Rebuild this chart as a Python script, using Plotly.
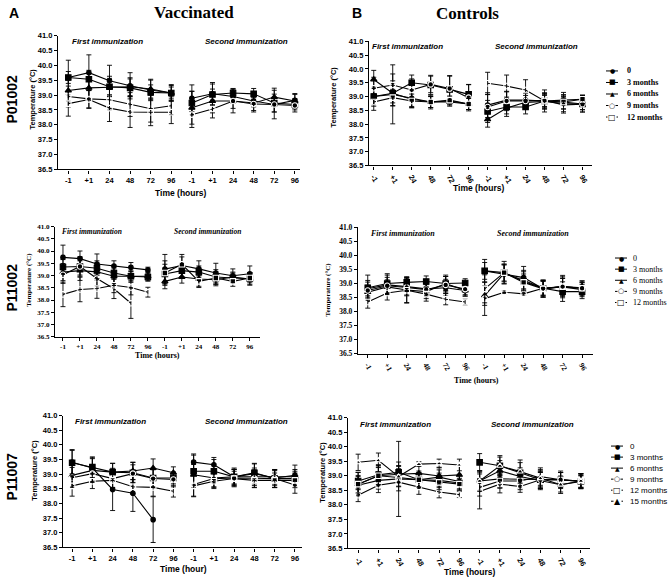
import plotly.graph_objects as go

W, H = 669, 583
TIME_LABELS = ["-1", "+1", "24", "48", "72", "96"]
SERIES = ["0", "3 months", "6 months", "9 months", "12 months", "15 months"]
SYMBOL = {"0": "circle", "3 months": "square", "6 months": "triangle-up",
          "9 months": "circle-open", "12 months": "square-open", "15 months": "triangle-up-open"}

# ---- data: 12 values each (first immunization x6, second immunization x6) ----
vacc_P01002_mean = {
    "0":         [39.59, 39.75, 39.48, 39.31, 39.17, 39.07, 38.89, 39.04, 38.95, 38.80, 38.68, 38.82],
    "3 months":  [39.59, 39.53, 39.28, 39.24, 39.09, 39.07, 38.73, 39.02, 39.07, 39.04, 38.73, 38.68],
    "6 months":  [39.15, 39.24, 39.26, 39.28, 39.20, 39.07, 38.57, 38.80, 38.80, 38.73, 38.93, 38.80],
    "9 months":  [38.95, 38.87, 38.84, 38.68, 38.54, 38.64, 38.34, 38.53, 38.80, 38.70, 38.68, 38.65],
    "12 months": [38.71, 38.85, 38.56, 38.43, 38.42, 38.42, None, None, None, None, None, None],
}
vacc_P01002_sd = {
    "0":         [0.58, 0.60, 0.52, 0.44, 0.36, 0.28, 0.45, 0.38, 0.22, 0.20, 0.25, 0.20],
    "3 months":  [0.20, 0.30, 0.35, 0.30, 0.25, 0.20, 0.40, 0.35, 0.15, 0.18, 0.30, 0.18],
    "6 months":  [0.35, 0.35, 0.30, 0.30, 0.30, 0.25, 0.55, 0.40, 0.40, 0.30, 0.30, 0.25],
    "9 months":  [0.35, 0.30, 0.35, 0.40, 0.45, 0.30, 0.43, 0.30, 0.25, 0.22, 0.48, 0.22],
    "12 months": [0.42, 0.30, 0.45, 0.52, 0.45, 0.38, None, None, None, None, None, None],
}
ctrl_P01002_mean = {
    "0":         [39.00, 39.08, 38.94, 38.80, 38.84, 38.73, 38.69, 38.87, 38.87, 38.84, 38.87, 38.90],
    "3 months":  [39.00, 39.12, 39.50, 39.42, 39.26, 39.08, 38.46, 38.62, 38.62, 38.84, 38.80, 38.73],
    "6 months":  [39.62, 39.12, 38.90, 38.80, 38.80, 38.73, 38.17, 38.58, 38.79, 38.82, 38.75, 38.73],
    "9 months":  [39.30, 39.42, 39.24, 39.44, 39.29, 38.96, 38.62, 38.84, 38.84, 38.86, 38.70, 38.72],
    "12 months": [38.80, 38.96, 38.84, 38.80, 38.87, 38.73, 39.48, 39.38, 39.24, 38.84, 38.80, 38.90],
}
ctrl_P01002_sd = {
    "0":         [0.35, 1.07, 0.30, 0.20, 0.15, 0.20, 0.45, 0.30, 0.25, 0.30, 0.20, 0.15],
    "3 months":  [0.30, 0.45, 0.28, 0.35, 0.50, 0.35, 0.40, 0.25, 0.25, 0.20, 0.25, 0.30],
    "6 months":  [0.33, 0.35, 0.30, 0.20, 0.15, 0.20, 0.28, 0.30, 0.25, 0.25, 0.20, 0.20],
    "9 months":  [0.40, 0.40, 0.40, 0.30, 0.45, 0.48, 0.45, 0.35, 0.30, 0.25, 0.30, 0.25],
    "12 months": [0.30, 0.30, 0.25, 0.25, 0.15, 0.20, 0.40, 0.40, 0.37, 0.40, 0.35, 0.15],
}
vacc_P11002_mean = {
    "0":         [39.74, 39.69, 39.47, 39.39, 39.34, 39.23, 39.26, 39.41, 39.27, 39.10, 38.99, 39.07],
    "3 months":  [39.35, 39.37, 39.30, 39.10, 38.97, 38.94, 39.06, 39.20, 39.14, 38.94, 38.90, 38.87],
    "6 months":  [39.14, 39.20, 39.15, 38.97, 38.97, 38.97, 38.76, 38.94, 38.86, 38.83, 38.94, 38.86],
    "9 months":  [39.03, 39.37, 38.88, 38.46, 37.87, None, None, None, None, None, None, None],
    "12 months": [38.23, 38.43, 38.47, 38.60, 38.51, 38.32, 39.10, 39.46, 38.76, 38.90, 38.76, 38.90],
}
vacc_P11002_sd = {
    "0":         [0.50, 0.31, 0.41, 0.21, 0.19, 0.11, 0.60, 0.45, 0.33, 0.40, 0.28, 0.32],
    "3 months":  [0.30, 0.35, 0.30, 0.25, 0.20, 0.15, 0.40, 0.30, 0.25, 0.30, 0.20, 0.25],
    "6 months":  [0.35, 0.40, 0.35, 0.30, 0.25, 0.20, 0.30, 0.25, 0.30, 0.25, 0.20, 0.25],
    "9 months":  [0.35, 0.40, 0.30, 0.40, 0.62, None, None, None, None, None, None, None],
    "12 months": [0.50, 0.50, 0.40, 0.30, 0.30, 0.20, 0.50, 0.30, 0.25, 0.25, 0.20, 0.20],
}
ctrl_P11002_mean = {
    "0":         [38.81, 38.95, 38.89, 38.81, 38.85, 38.75, 39.45, 39.34, 39.21, 38.81, 38.89, 38.85],
    "3 months":  [38.85, 39.00, 39.04, 39.07, 39.00, 39.02, 39.45, 39.39, 39.07, 38.83, 38.71, 38.71],
    "6 months":  [38.69, 38.88, 38.77, 38.71, 39.00, 38.75, 38.57, 39.36, 39.12, 38.83, 38.88, 38.78],
    "9 months":  [38.75, 38.92, 38.86, 38.78, 38.95, 38.80, 38.46, 38.69, 38.63, 38.83, 38.89, 38.83],
    "12 months": [38.34, 38.66, 38.76, 38.62, 38.44, 38.34, 38.81, 39.39, 39.04, 38.81, 38.89, 38.83],
}
ctrl_P11002_sd = {
    "0":         [0.30, 0.35, 0.30, 0.25, 0.30, 0.20, 0.41, 0.35, 0.40, 0.30, 0.30, 0.25],
    "3 months":  [0.45, 0.35, 0.20, 0.20, 0.30, 0.15, 0.30, 0.30, 0.35, 0.25, 0.35, 0.25],
    "6 months":  [0.25, 0.25, 0.45, 0.25, 0.25, 0.20, 0.35, 0.30, 0.35, 0.25, 0.30, 0.25],
    "9 months":  [0.30, 0.30, 0.30, 0.25, 0.30, 0.20, 0.60, 0.05, 0.05, 0.30, 0.35, 0.25],
    "12 months": [0.22, 0.25, 0.46, 0.25, 0.20, 0.10, 0.50, 0.40, 0.30, 0.30, 0.40, 0.20],
}
vacc_P11007_mean = {
    "0":         [39.41, 39.21, 38.48, 38.35, 37.45, None, 39.41, 39.32, 38.91, 39.02, 38.87, 38.96],
    "3 months":  [39.39, 39.24, 39.07, 39.05, 38.87, 38.87, 39.10, 39.10, 38.91, 39.05, 38.85, 38.85],
    "6 months":  [38.96, 39.13, 39.07, 39.11, 39.21, 39.05, 38.98, 38.87, 38.91, 38.91, 38.91, 38.91],
    "9 months":  [38.88, 39.02, 38.85, 39.02, 38.85, 38.82, 38.65, 38.85, 38.87, 38.85, 38.85, 38.63],
    "12 months": [38.60, 38.76, 38.79, 38.57, 38.55, 38.42, 38.60, 38.76, 38.85, 38.79, 38.79, 38.79],
}
vacc_P11007_sd = {
    "0":         [0.40, 0.35, 0.72, 0.62, 0.78, None, 0.28, 0.25, 0.25, 0.35, 0.25, 0.35],
    "3 months":  [0.45, 0.35, 0.30, 0.35, 0.30, 0.20, 0.55, 0.40, 0.30, 0.30, 0.30, 0.25],
    "6 months":  [0.40, 0.40, 0.30, 0.30, 0.31, 0.20, 0.35, 0.30, 0.25, 0.30, 0.25, 0.25],
    "9 months":  [0.35, 0.30, 0.30, 0.30, 0.30, 0.25, 0.40, 0.30, 0.30, 0.30, 0.30, 0.28],
    "12 months": [0.35, 0.25, 0.25, 0.25, 0.30, 0.20, 0.37, 0.25, 0.25, 0.25, 0.25, 0.25],
}
ctrl_P11007_mean = {
    "0":         [38.67, 38.84, 38.89, 38.86, 38.95, 38.80, 38.82, 38.89, 38.88, 38.86, 38.86, 38.80],
    "3 months":  [38.82, 39.03, 39.12, 38.86, 38.84, 38.75, 39.46, 39.34, 39.10, 38.86, 38.86, 38.80],
    "6 months":  [38.71, 39.00, 39.05, 39.08, 38.99, 39.03, 38.82, 39.17, 38.97, 38.82, 38.69, 38.80],
    "9 months":  [38.33, 38.67, 38.78, 38.61, 38.44, 38.35, 38.46, 38.71, 38.63, 38.86, 38.86, 38.82],
    "12 months": [38.71, 39.00, 38.94, 38.86, 38.77, 38.71, 38.60, 38.82, 38.82, 38.97, 38.86, 38.82],
    "15 months": [39.46, 39.53, 38.97, 39.40, 39.42, 39.37, 38.82, 39.34, 39.14, 38.91, 38.69, 38.82],
}
ctrl_P11007_sd = {
    "0":         [0.30, 0.30, 1.29, 0.25, 0.25, 0.25, 0.35, 0.30, 0.30, 0.25, 0.25, 0.20],
    "3 months":  [0.30, 0.35, 0.35, 0.30, 0.25, 0.25, 0.30, 0.35, 0.35, 0.30, 0.25, 0.20],
    "6 months":  [0.40, 0.35, 0.30, 0.30, 0.30, 0.30, 0.30, 0.35, 0.30, 0.30, 0.25, 0.25],
    "9 months":  [0.22, 0.25, 0.30, 0.25, 0.20, 0.10, 0.60, 0.30, 0.20, 0.30, 0.25, 0.25],
    "12 months": [0.30, 0.30, 0.30, 0.25, 0.25, 0.20, 0.30, 0.25, 0.30, 0.30, 0.30, 0.25],
    "15 months": [0.28, 0.25, 0.35, 0.08, 0.15, 0.20, 0.35, 0.30, 0.40, 0.30, 0.30, 0.25],
}

SANS = "Liberation Sans"
SERIF = "Liberation Serif"

def px(x):
    return x / W

def py(y):
    return 1 - y / H

# panel layout: box in pixels (x0, x1, ytop, ybottom), x range, fonts etc.
panels = [
    dict(mean=vacc_P01002_mean, sd=vacc_P01002_sd, box=(58, 300, 32, 168), xr=(-0.5, 11.25),
         fam=SANS, tick=7.5, angle=0, xtitle="Time (hours)", xt=(180, 192), yt=(33, 97),
         first=(107, 38), second=(246, 38), sec=8),
    dict(mean=ctrl_P01002_mean, sd=ctrl_P01002_sd, box=(369, 592, 38, 164), xr=(-0.25, 11.5),
         fam=SANS, tick=7.5, angle=60, xtitle="Time (hours)", xt=(478, 187), yt=(334, 95),
         first=(407, 43), second=(536, 43), sec=8,
         legend=dict(mx=612, tx=625, y0=68, dy=11.7, fam=SERIF, size=8, bold=True)),
    dict(mean=vacc_P11002_mean, sd=vacc_P11002_sd, box=(55, 260, 226, 338), xr=(-0.47, 11.6),
         fam=SERIF, tick=7, angle=0, xtitle="Time (hours)", xt=(157, 357), yt=(29, 280),
         first=(92, 231), second=(207, 231), sec=7.5),
    dict(mean=ctrl_P11002_mean, sd=ctrl_P11002_sd, box=(358, 593, 227, 355), xr=(-0.5, 11.56),
         fam=SERIF, tick=7.5, angle=60, xtitle="Time (hours)", xt=(477, 382), yt=(328, 290),
         first=(402, 233), second=(533, 233), sec=8,
         legend=dict(mx=621, tx=631, y0=258, dy=11.3, fam=SERIF, size=8, bold=False)),
    dict(mean=vacc_P11007_mean, sd=vacc_P11007_sd, box=(63, 302, 418, 552), xr=(-0.45, 11.35),
         fam=SANS, tick=7.5, angle=0, xtitle="Time (hour)", xt=(183, 574), yt=(35, 474),
         first=(110, 424), second=(246, 424), sec=8),
    dict(mean=ctrl_P11007_mean, sd=ctrl_P11007_sd, box=(348, 590, 420, 553), xr=(-0.5, 11.45),
         fam=SANS, tick=7.5, angle=60, xtitle="Time (hours)", xt=(470, 577), yt=(323, 476),
         first=(395, 427), second=(532, 427), sec=8,
         legend=dict(mx=617, tx=628, y0=449, dy=11.2, fam=SANS, size=8, bold=False)),
]

LEGEND_GLYPH = {"0": ("●", 6), "3 months": ("■", 7), "6 months": ("▲", 6),
                "9 months": ("○", 7), "12 months": ("□", 8), "15 months": ("▲", 8)}

fig = go.Figure()
annotations = []
shapes = []

def ann(text, x, y, size, fam=SANS, bold=True, italic=False, angle=0, xanchor="center"):
    annotations.append(dict(
        text=text, x=px(x), y=py(y), xref="paper", yref="paper", showarrow=False,
        xanchor=xanchor, yanchor="middle", textangle=angle,
        font=dict(family=fam, size=size, color="black",
                  weight="bold" if bold else "normal",
                  style="italic" if italic else "normal")))

layout_axes = {}
for i, p in enumerate(panels, start=1):
    xa = "x" if i == 1 else f"x{i}"
    ya = "y" if i == 1 else f"y{i}"
    x0, x1, yt0, yb = p["box"]
    tf = dict(family=p["fam"], size=p["tick"], color="black", weight="bold")
    layout_axes["xaxis" if i == 1 else f"xaxis{i}"] = dict(
        domain=[px(x0), px(x1)], range=list(p["xr"]), anchor=ya,
        tickmode="array", tickvals=list(range(12)), ticktext=TIME_LABELS * 2,
        ticks="outside", ticklen=3, tickwidth=1, tickcolor="black",
        showline=True, linecolor="black", linewidth=1.3, showgrid=False, zeroline=False,
        tickfont=tf, tickangle=p["angle"])
    layout_axes["yaxis" if i == 1 else f"yaxis{i}"] = dict(
        domain=[py(yb), py(yt0)], range=[36.5, 41.0], anchor=xa,
        tick0=36.5, dtick=0.5, tickformat=".1f",
        ticks="outside", ticklen=3, tickwidth=1, tickcolor="black",
        showline=True, linecolor="black", linewidth=1.3, showgrid=False, zeroline=False,
        tickfont=tf)
    for s, vals in p["mean"].items():
        sds = p["sd"][s]
        open_sym = "open" in SYMBOL[s]
        for start in (0, 6):
            ys = vals[start:start + 6]
            if all(v is None for v in ys):
                continue
            fig.add_trace(go.Scatter(
                x=list(range(start, start + 6)), y=ys, xaxis=xa, yaxis=ya,
                mode="lines+markers", showlegend=False, name=s,
                line=dict(color="black", width=1.1),
                marker=dict(symbol=SYMBOL[s], size=5.5 if s != "0" else 4.5,
                            color="white" if open_sym else "black",
                            line=dict(color="black", width=1.1)),
                error_y=dict(type="data", array=sds[start:start + 6], visible=True,
                             color="black", thickness=0.9, width=2.5)))
    serif = p["fam"] == SERIF
    ann("First immunization", p["first"][0], p["first"][1], p["sec"], p["fam"], True, True)
    ann("Second immunization", p["second"][0], p["second"][1], p["sec"], p["fam"], True, True)
    ann(p["xtitle"], p["xt"][0], p["xt"][1], 8.5 if not serif else 8, p["fam"], True)
    ann("Temperature (°C)", p["yt"][0], p["yt"][1], 7.5 if not serif else 7, p["fam"], True, angle=-90)
    if "legend" in p:
        lg = p["legend"]
        for k, s in enumerate(p["mean"].keys()):
            yy = lg["y0"] + k * lg["dy"]
            shapes.append(dict(type="line", xref="paper", yref="paper",
                               x0=px(lg["mx"] - 6), x1=px(lg["mx"] + 6), y0=py(yy), y1=py(yy),
                               line=dict(color="black", width=1)))
            g, gs = LEGEND_GLYPH[s]
            if "open" in SYMBOL[s]:
                annotations.append(dict(text=g, x=px(lg["mx"]), y=py(yy), xref="paper", yref="paper",
                                        showarrow=False, xanchor="center", yanchor="middle",
                                        bgcolor="white", borderpad=0,
                                        font=dict(family="DejaVu Sans", size=gs, color="black")))
            else:
                ann(g, lg["mx"], yy, gs, "DejaVu Sans", False)
            ann(s, lg["tx"], yy, lg["size"], lg["fam"], lg["bold"], xanchor="left")

# panel headings and row labels
ann("A", 14, 9, 14, SANS, True)
ann("Vaccinated", 194, 9, 17, SERIF, True)
ann("B", 357, 9, 14, SANS, True)
ann("Controls", 467, 10, 17, SERIF, True)
ann("P01002", 12, 97, 14, SANS, True, angle=-90)
ann("P11002", 12, 288, 14, SANS, True, angle=-90)
ann("P11007", 12, 480, 14, SANS, True, angle=-90)

fig.update_layout(width=W, height=H, margin=dict(l=0, r=0, t=0, b=0),
                  paper_bgcolor="white", plot_bgcolor="white",
                  annotations=annotations, shapes=shapes, **layout_axes)
fig.write_html("out.html", config={"displayModeBar": False},
               post_script="document.body.style.margin='0';")
